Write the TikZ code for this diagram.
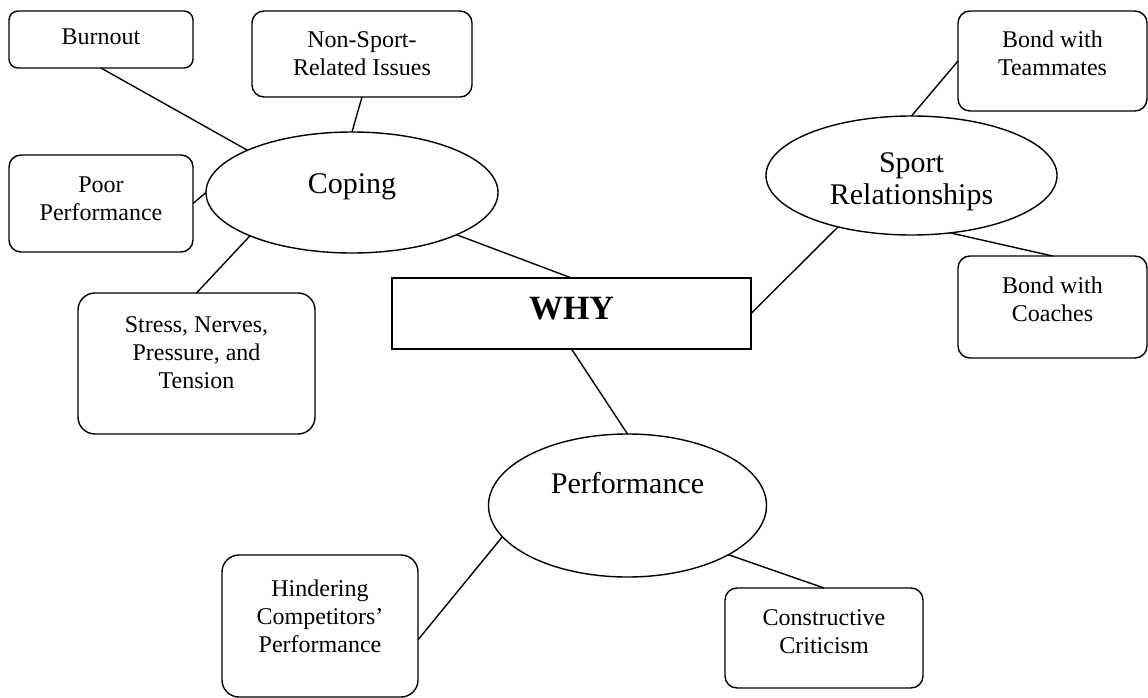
\documentclass[tikz,border=0pt]{standalone}
\usepackage{fontspec}
\setmainfont{Liberation Serif}
\usetikzlibrary{shapes.geometric}

\begin{document}
\begin{tikzpicture}[x=1pt, y=-1pt, line width=1.4pt]
% Definition of blocks:
\tikzset{%
  topic/.style  = {draw, rectangle, rounded corners=12pt, inner sep=0pt, outer sep=0pt, align=center, font=\fontsize{24}{28}\selectfont},
  theme/.style  = {draw, ellipse, inner sep=0pt, outer sep=0pt, align=center, font=\fontsize{30}{32}\selectfont},
  core/.style   = {draw, rectangle, inner sep=0pt, outer sep=0pt, font=\fontsize{34}{38}\selectfont\bfseries}
}
\useasboundingbox (0,0) rectangle (1148,698);
\draw
	node [core, minimum width=359pt, minimum height=71pt, text depth=9.5pt] (why) at (571.5,313.5) {WHY}
	node [theme, minimum width=292pt, minimum height=121pt, text height=21pt, text depth=19pt] (coping) at (352,192.5) {Coping}
	node [theme, minimum width=291pt, minimum height=119pt, text height=63.5pt] (sport) at (911.5,175.5) {Sport\\Relationships}
	node [theme, minimum width=278pt, minimum height=143pt, text height=21pt, text depth=45pt] (perf) at (627.5,505.5) {Performance}
	node [topic, minimum width=184pt, minimum height=57pt, rounded corners=9pt, text depth=5pt] (burnout) at (101,39.5) {Burnout}
	node [topic, minimum width=220pt, minimum height=86pt] (nonsport) at (362,54) {Non-Sport-\\Related Issues}
	node [topic, minimum width=184pt, minimum height=97pt, text depth=9.4pt] (poor) at (101,203.5) {Poor\\Performance}
	node [topic, minimum width=237pt, minimum height=141pt, rounded corners=17pt, text depth=21.2pt] (stress) at (196.5,363.5) {Stress, Nerves,\\Pressure, and\\Tension}
	node [topic, minimum width=189pt, minimum height=100pt, text depth=16.4pt] (team) at (1052.5,61) {Bond with\\Teammates}
	node [topic, minimum width=189pt, minimum height=102pt, text depth=16.4pt] (coaches) at (1052.5,307) {Bond with\\Coaches}
	node [topic, minimum width=196pt, minimum height=142pt, rounded corners=17pt, text depth=20.4pt] (hind) at (320,626) {Hindering\\Competitors’\\Performance}
	node [topic, minimum width=198pt, minimum height=100pt, text depth=12.4pt] (constr) at (824,638) {Constructive\\Criticism};

	\draw (burnout.south) -- (coping.158);
	\draw (nonsport.south) -- (coping.north);
	\draw (poor.east) -- (coping.west);
	\draw (stress.north) -- (coping.203);
	\draw (coping.-22) -- (why.north);
	\draw (why.east) -- (sport.215);
	\draw (sport.north) -- (team.west);
	\draw (sport.-56) -- (coaches.north);
	\draw (why.south) -- (perf.north);
	\draw (perf.194) -- (hind.-8);
	\draw (perf.-26) -- (constr.north);
	%
\end{tikzpicture}
\end{document}
